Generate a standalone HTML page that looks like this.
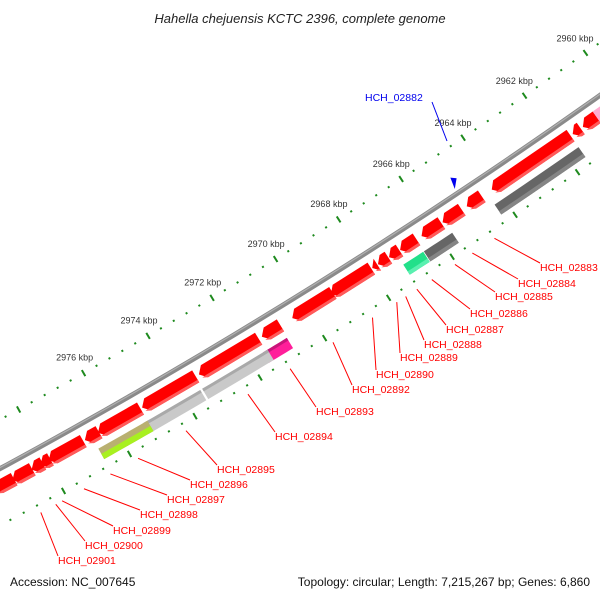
<!DOCTYPE html>
<html><head><meta charset="utf-8"><style>
html,body{margin:0;padding:0;background:#fff;}
svg{display:block;font-family:"Liberation Sans","DejaVu Sans",sans-serif;}
</style></head><body>
<svg id="map" width="600" height="600" viewBox="0 0 600 600" xmlns="http://www.w3.org/2000/svg">
<rect width="600" height="600" fill="#fff"/>
<text x="300" y="23" text-anchor="middle" font-size="13" font-style="italic" fill="#222">Hahella chejuensis KCTC 2396, complete genome</text>
<g id="ticks"></g>
<g id="backbone"></g>
<g id="genes"></g>
<g id="labels"></g>
<text x="10" y="586" font-size="12" fill="#111">Accession: NC_007645</text>
<text x="590" y="586" text-anchor="end" font-size="12" fill="#111">Topology: circular; Length: 7,215,267 bp; Genes: 6,860</text>
</svg>
<script>
// ---- data ----
const kbpTicks = [2960, 2962, 2964, 2966, 2968, 2970, 2972, 2974, 2976];
const redStarts = [2961.6, 2961.27, 2960.75, 2964.46, 2965.1, 2965.75, 2966.54, 2967.08, 2967.43, 2967.78, 2967.97, 2969.18, 2970.82, 2971.5, 2973.45, 2975.15, 2976.42, 2976.9, 2977.9, 2978.13, 2978.45, 2979.0];
const redEnds   = [2964.14, 2961.53, 2961.2, 2964.94, 2965.71, 2966.38, 2967.06, 2967.41, 2967.76, 2967.94, 2969.24, 2970.45, 2971.4, 2973.35, 2975.1, 2976.45, 2976.85, 2977.95, 2978.2, 2978.47, 2979.05, 2979.6];
const blockStarts = [2961.6, 2965.65, 2966.57, 2970.85, 2971.45, 2973.53, 2975.15];
const blockEnds   = [2964.3, 2966.55, 2967.2, 2971.6, 2973.47, 2975.27, 2976.65];
const blockKinds  = ["dark", "dark", "green", "magenta", "light", "light", "olive"];
const labelNames = ["HCH_02883","HCH_02884","HCH_02885","HCH_02886","HCH_02887","HCH_02888","HCH_02889","HCH_02890","HCH_02892","HCH_02893","HCH_02894","HCH_02895","HCH_02896","HCH_02897","HCH_02898","HCH_02899","HCH_02900","HCH_02901"];
const labelKbp = [2964.8, 2965.5, 2966.05, 2966.78, 2967.25, 2967.6, 2967.88, 2968.64, 2969.87, 2971.2, 2972.5, 2974.4, 2975.86, 2976.7, 2977.5, 2978.16, 2978.35, 2978.8];
const labelX = [540,518,495,470,446,424,400,376,352,316,275,217,190,167,140,113,85,58];
const labelY = [267,283,296,313,329,344,357,374,389,411,436,469,484,499,514,530,545,560];

// ---- geometry ----
const NS = "http://www.w3.org/2000/svg";
const CX = -2799, CY = -4699;
function pt(k, r) {
  const t = (54.54 + (k - 2960) * 0.3656) * Math.PI / 180;
  return [CX + r * Math.cos(t), CY + r * Math.sin(t)];
}
function mk(tag, attrs, parent) {
  const e = document.createElementNS(NS, tag);
  for (const a in attrs) e.setAttribute(a, attrs[a]);
  parent.appendChild(e);
  return e;
}
function poly(points) { return points.map(p => p[0].toFixed(2) + "," + p[1].toFixed(2)).join(" "); }
function band(k1, k2, r1, r2) {
  const pts = [];
  const n = 6;
  for (let i = 0; i <= n; i++) pts.push(pt(k1 + (k2 - k1) * i / n, r1));
  for (let i = n; i >= 0; i--) pts.push(pt(k1 + (k2 - k1) * i / n, r2));
  return pts;
}

// ---- ticks ----
const tg = document.getElementById("ticks");
[5834, 5927].forEach((r, ri) => {
  for (let i = 0; i <= 60; i++) {
    const k = 2958 + 0.4 * i;
    const major = i % 5 === 0;
    const a = pt(k, r - (major ? 3.5 : 1));
    const b = pt(k, r + (major ? 3.5 : 1));
    const l = mk("line", {x1: a[0], y1: a[1], x2: b[0], y2: b[1], stroke: "#1e8a1e", "stroke-width": 2}, tg);
    
    
  }
});
kbpTicks.forEach(k => {
  const p = pt(k, 5816);
  const t = mk("text", {x: p[0], y: p[1] + 3, "text-anchor": "middle", "font-size": 9, fill: "#333"}, tg);
  t.textContent = k + " kbp";
  
  
});

// ---- backbone ----
const bg = document.getElementById("backbone");
const bpts = [];
for (let k = 2957; k <= 2982; k += 0.5) bpts.push(pt(k, 5877));
const bb = mk("polyline", {points: poly(bpts), fill: "none", stroke: "#8a8a8a", "stroke-width": 5}, bg);


const bpts2 = [];
for (let k = 2957; k <= 2982; k += 0.5) bpts2.push(pt(k, 5876));
const bh = mk("polyline", {points: poly(bpts2), fill: "none", stroke: "#b0b0b0", "stroke-width": 1.2}, bg);



// ---- genes ----
const gg = document.getElementById("genes");
const R1 = 5886, R2 = 5900, RM = 5893, TIP = 0.17;
for (let i = 0; i < redStarts.length; i++) {
  const a = redStarts[i], b = redEnds[i];
  const tipK = Math.max(a, b - TIP);
  const shape = [pt(a, R1), pt(tipK, R1), pt(b, RM), pt(tipK, R2), pt(a, R2)];
  const g = mk("polygon", {points: poly(shape), fill: "#ff0000"}, gg);
  
  
  const s = [pt(a, R2 - 3), pt(tipK, R2 - 3), pt(b - TIP * 0.2, R2 - 2.5), pt(tipK, R2), pt(a, R2)];
  const sh = mk("polygon", {points: poly(s), fill: "#ff5a5a"}, gg);
  
  
}
// pink partial gene at top-right
{
  const shape = [pt(2960.45, R1), pt(2960.75, R1), pt(2960.75, R2), pt(2960.45, R2)];
  const p = mk("polygon", {points: poly(shape), fill: "#ffaad0"}, gg);
  
  
}
const kindMain = {dark: "#666666", green: "#22e08a", magenta: "#ff1f9a", light: "#c9c9c9", olive: "#b9b070"};
const kindStrip = {dark: "#858585", green: "#5af0b0", magenta: "#c8157a", light: "#a9a9a9", olive: "#a8f020"};
for (let i = 0; i < blockStarts.length; i++) {
  const a = blockStarts[i], b = blockEnds[i], kind = blockKinds[i];
  const r = mk("polygon", {points: poly(band(a, b, 5907, 5919)), fill: kindMain[kind]}, gg);
  
  
  let s1 = 5915, s2 = 5919;
  if (kind === "light" || kind === "magenta") { s1 = 5907; s2 = 5910; }
  if (kind === "olive") { s1 = 5913; s2 = 5919; }
  const st = mk("polygon", {points: poly(band(a, b, s1, s2)), fill: kindStrip[kind]}, gg);
  
  
}
// blue marker
{
  const tri = [pt(2964.75, 5864), pt(2964.95, 5872), pt(2964.88, 5860)];
  const b = mk("polygon", {points: poly(tri), fill: "#0000ee"}, gg);
  
  
}

// ---- labels ----
const lg = document.getElementById("labels");
for (let i = 0; i < labelNames.length; i++) {
  const s = pt(labelKbp[i], 5935);
  const ln = mk("line", {x1: s[0], y1: s[1], x2: labelX[i], y2: labelY[i] - 4, stroke: "#ff0000", "stroke-width": 1}, lg);
  
  
  const t = mk("text", {x: labelX[i], y: labelY[i] + 4, "font-size": 10.5, fill: "#ff0000"}, lg);
  t.textContent = labelNames[i];
  
  
}
{
  const ln = mk("line", {x1: 432, y1: 102, x2: 447, y2: 141, stroke: "#0000ee", "stroke-width": 1}, lg);
  
  
  const t = mk("text", {x: 365, y: 101, "font-size": 10.5, fill: "#0000ee"}, lg);
  t.textContent = "HCH_02882";
  
  
}
</script>
</body></html>
